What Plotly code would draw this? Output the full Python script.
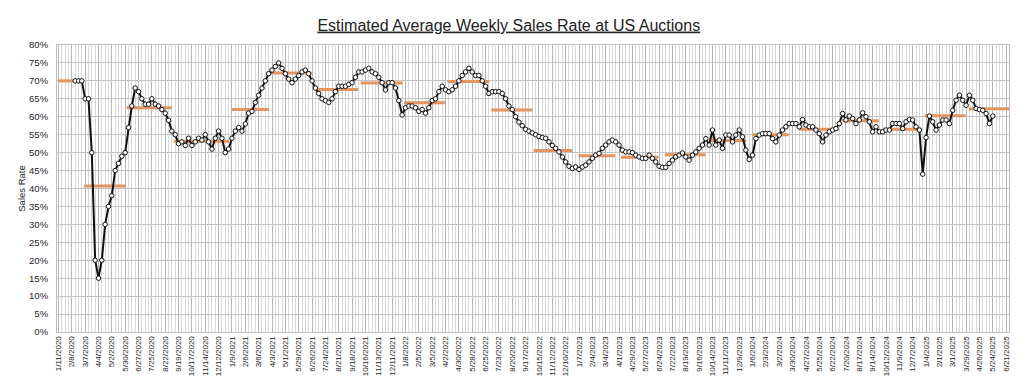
import pandas as pd
import plotly.graph_objects as go

# ---------------- data ----------------
first_week = "2020-02-15"

sales_2020 = [70, 70, 70, 65, 65, 50, 20, 15, 20, 30, 35, 38, 45, 47, 49, 50, 57, 63, 68, 67,
              65, 63.5, 63.5, 65, 63.5, 63, 62, 61, 59, 56, 55, 52.5, 53, 52, 54, 52, 53, 54,
              53.5, 55, 53, 51, 54, 56, 54, 50]
sales_2021 = [51, 54, 56, 57, 56, 58, 61, 61.5, 64, 66, 68, 70, 72, 73, 74, 75, 73.5, 72, 70.5,
              69.5, 70.5, 71.5, 72.5, 73, 72, 70, 68, 66.5, 65, 64.5, 64, 65, 67, 68.5, 68.5,
              68.5, 69, 69.5, 71, 72.5, 72.5, 73, 73.5, 72.5, 72, 71, 69.5, 67.5, 69.5, 69.5,
              68, 64.5]
sales_2022 = [60.5, 62.5, 63, 63, 62.5, 61.5, 62, 61, 62.5, 64.5, 65, 67, 68.5, 67.5, 67, 67.5,
              68.5, 70, 71.5, 72.5, 73.5, 72.5, 71.5, 71.5, 70, 68.5, 66.5, 67, 67, 67, 66.5,
              65, 63, 62, 60, 58.5, 57.5, 56.5, 56, 55.5, 55, 54.5, 54.2, 54, 53, 52, 51.2,
              50.2, 48.8, 47.4, 46.2, 45.6]
sales_2023 = [46, 45.3, 46, 46.5, 47.4, 48.4, 49.3, 49.8, 51.2, 52.1, 53, 53.5, 53, 52.1, 50.7,
              50.2, 50.2, 50, 49.3, 48.8, 48.4, 48.4, 49.3, 48.4, 47.4, 46.2, 45.9, 45.9, 47,
              47.9, 48.8, 49.3, 49.9, 48.8, 47.9, 49.3, 50.2, 51.2, 52.1, 53.9, 52.1, 56.3,
              52.1, 53.5, 51.2, 54.9, 54.9, 53, 54.9, 56.3, 54.4, 50.7, 48.1]
sales_2024 = [49.3, 53.9, 54.9, 55.3, 55.3, 55.3, 53.9, 53, 54.9, 56.3, 57.2, 58.1, 58.1, 58.1,
              57.2, 59.2, 57.7, 57.2, 57.2, 56.3, 55.3, 53, 54.9, 55.8, 56.3, 56.7, 58.1, 60.9,
              59.1, 60.2, 59.5, 58.1, 59.1, 61.1, 60, 58.6, 55.8, 57.2, 55.8, 55.8, 56.3, 56.3,
              58.1, 58.1, 58.1, 56.7, 58.6, 59.2, 59.1, 57.2, 56.3, 44]
sales_2025 = [54.2, 60.2, 58.6, 56.3, 57.7, 59.1, 59.1, 58.1, 61.8, 64.6, 66, 64.6, 63.2, 66,
              64.6, 62.3, 62, 61.8, 60.9, 58.1, 60.2]

# period averages (orange bars)
seg_start = ["2020-01-10", "2020-03-05", "2020-06-02", "2020-09-09", "2021-01-08", "2021-03-28",
             "2021-07-09", "2021-10-06", "2022-01-05", "2022-04-06", "2022-07-07", "2022-10-04",
             "2023-01-06", "2023-04-05", "2023-07-06", "2023-10-08", "2024-01-07", "2024-04-12",
             "2024-07-12", "2024-10-05", "2025-01-01", "2025-04-04"]
seg_end = ["2020-02-11", "2020-05-31", "2020-09-05", "2021-01-03", "2021-03-27", "2021-06-25",
           "2021-10-01", "2022-01-02", "2022-04-01", "2022-07-03", "2022-10-01", "2022-12-24",
           "2023-03-24", "2023-06-23", "2023-09-29", "2023-12-24", "2024-03-22", "2024-07-05",
           "2024-09-27", "2024-12-25", "2025-03-28", "2025-06-27"]
seg_value = [70, 40.7, 62.5, 53.2, 62, 72.2, 67.6, 69.4, 63.9, 69.8, 61.9, 50.6,
             49.1, 48.7, 49.4, 53.4, 55, 56.5, 58.9, 56.5, 60.3, 62.2]

y_ticks = list(range(0, 85, 5))

# ---------------- figure ----------------
sales_rate = sales_2020 + sales_2021 + sales_2022 + sales_2023 + sales_2024 + sales_2025
week_dates = pd.date_range(first_week, periods=len(sales_rate), freq="7D")

seg_x, seg_y = [], []
for s, e, v in zip(seg_start, seg_end, seg_value):
    seg_x += [s, e, None]
    seg_y += [v, v, None]

FONT = "Arial, 'Liberation Sans', sans-serif"
WEEK_MS = 7 * 86400000
W, H = 1016, 380   # page body adds an 8px offset

fig = go.Figure()
fig.add_trace(go.Scatter(
    x=seg_x, y=seg_y, mode="lines",
    line=dict(color="#E39461", width=3), hoverinfo="skip", showlegend=False))
fig.add_trace(go.Scatter(
    x=week_dates, y=sales_rate, mode="lines+markers",
    line=dict(color="#111111", width=2),
    marker=dict(size=4.5, color="white", line=dict(color="#111111", width=1)),
    showlegend=False))

fig.update_layout(
    width=W, height=H,
    margin=dict(l=49, r=15, t=37, b=48),
    paper_bgcolor="white", plot_bgcolor="white",
    font=dict(family=FONT, color="#262626"),
    title=dict(text="<u>Estimated Average Weekly Sales Rate at US Auctions</u>",
               x=500.8 / W, xanchor="center", xref="container",
               y=1 - 17 / H, yanchor="middle", yref="container",
               font=dict(family=FONT, size=16, color="#222222")),
)

fig.update_xaxes(
    type="date",
    range=["2020-01-08", "2025-06-27"],
    tick0="2020-01-11", dtick=4 * WEEK_MS,
    tickformat="%-m/%-d/%Y", tickangle=-90,
    tickfont=dict(size=8, family=FONT, color="#262626"),
    ticks="", showgrid=True, gridcolor="#b5b5b5", gridwidth=1,
    minor=dict(tick0="2020-01-11", dtick=WEEK_MS, showgrid=True,
               gridcolor="#d8d8d8", gridwidth=1),
    showline=True, linecolor="#bfbfbf", mirror=True, zeroline=False,
)
fig.update_yaxes(
    range=[0, 80], tickvals=y_ticks, ticktext=[f"{v}%" for v in y_ticks],
    tickfont=dict(size=9.5, family=FONT, color="#262626"),
    ticks="", ticklabelstandoff=6,
    showgrid=True, gridcolor="#c4c4c4", gridwidth=1,
    showline=True, linecolor="#bfbfbf", mirror=True, zeroline=False,
    title=dict(text="Sales Rate", font=dict(size=9.5, family=FONT, color="#262626"),
               standoff=1),
)

fig.write_html("out.html")
